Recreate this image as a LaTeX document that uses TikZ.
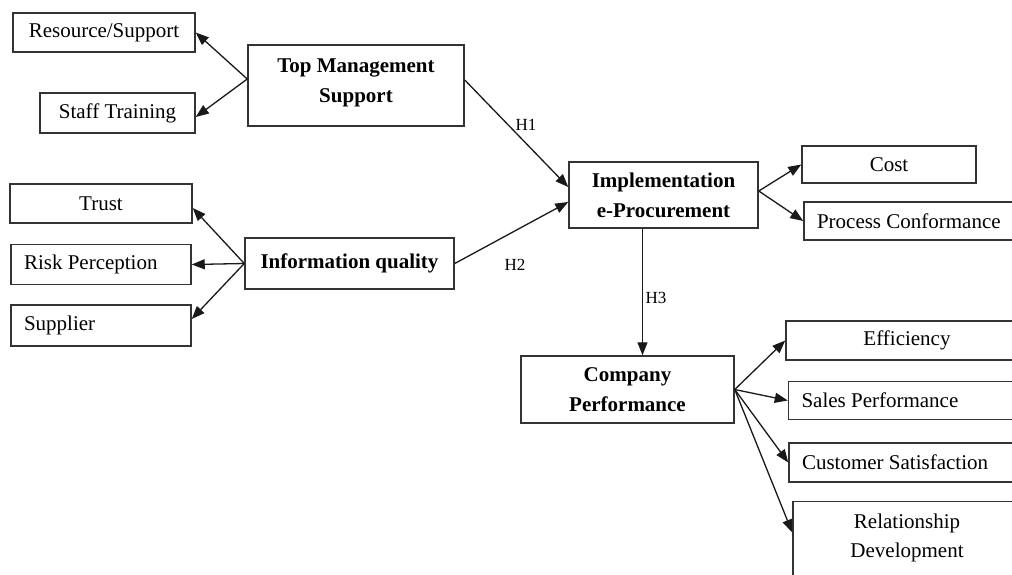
\documentclass[tikz,border=0pt]{standalone}
\usepackage{fontspec}
\setmainfont{Liberation Serif}
\usetikzlibrary{arrows.meta,positioning}
\tikzset{
  >={Triangle[length=13pt,width=10pt]},
  link/.style={->,line width=1.3pt,draw=black!90},
  box/.style={draw=black!80,line width=1.5pt,inner sep=0pt,align=center,
              font=\fontsize{21}{29}\selectfont},
  leftbox/.style={box,inner xsep=13pt,align=flush left,text width=#1},
  main/.style={box,font=\fontsize{21}{30}\selectfont\bfseries},
  hyp/.style={inner sep=0pt,font=\fontsize{17}{20}\selectfont}
}
\begin{document}
\begin{tikzpicture}[x=1pt,y=-1pt]
  \path[use as bounding box,clip] (0,0) rectangle (1012,574);
  % central constructs
  \node[main,minimum width=216pt,minimum height=81pt] (tms) at (356,85.5) {Top Management\\Support\rule[-9pt]{0pt}{1pt}};
  \node[main,minimum width=209pt,minimum height=51pt] (iq) at (349.5,263.5) {Information quality};
  \node[main,minimum width=189pt,minimum height=66pt] (impl) at (663.5,195) {Implementation\\e-Procurement};
  \node[main,minimum width=213pt,minimum height=67pt] (cp) at (627.5,389.5) {Company\\Performance};
  % indicators, left side
  \node[box,minimum width=182pt,minimum height=39pt] (res) at (104,32.5) {Resource/Support};
  \node[box,minimum width=155pt,minimum height=40pt] (staff) at (117.5,113) {Staff Training};
  \node[box,minimum width=182pt,minimum height=39pt] (trust) at (101,203.5) {Trust};
  \node[leftbox=154pt,minimum height=40pt,below=20pt of trust] (risk) {Risk Perception};
  \node[leftbox=154pt,minimum height=41pt,below=19pt of risk] (supp) {Supplier};
  % indicators, right side
  \node[box,minimum width=174pt,minimum height=37pt] (cost) at (889,164.5) {Cost};
  \node[leftbox=200pt,minimum height=38pt] (conf) at (917,221) {Process Conformance};
  \node[box,minimum width=242pt,minimum height=39pt] (eff) at (907,340.5) {Efficiency};
  \node[leftbox=211pt,minimum height=38pt,below=20pt of eff] (sales) {Sales Performance};
  \node[leftbox=210pt,minimum height=39pt,below=22pt of sales] (cust) {Customer Satisfaction};
  \node[box,minimum width=228pt,minimum height=83pt,below=18pt of cust] (rel) {Relationship\\Development\rule[-15.5pt]{0pt}{1pt}};
  % fans
  \coordinate (tmsfan) at ([yshift=6.5pt]tms.west);
  \draw[link] (tmsfan) -- (res.east);
  \draw[link] (tmsfan) -- ([yshift=-4pt]staff.east);
  \draw[link] (iq.west) -- ([yshift=-4.5pt]trust.east);
  \draw[link] (iq.west) -- (risk.east);
  \draw[link] (iq.west) -- ([yshift=6.5pt]supp.east);
  \coordinate (implfan) at ([yshift=4pt]impl.east);
  \draw[link] (implfan) -- (cost.west);
  \draw[link] (implfan) -- (conf.west);
  \draw[link] (cp.east) -- (eff.west);
  \draw[link] (cp.east) -- (sales.west);
  \draw[link] (cp.east) -- (cust.west);
  \draw[link] (cp.east) -- ([yshift=10.5pt]rel.west);
  % hypotheses
  \draw[link] ([yshift=5.5pt]tms.east) -- ([yshift=8pt]impl.west);
  \draw[link] (iq.east) -- ([yshift=-7pt]impl.west);
  \coordinate (h3top) at ([xshift=-21pt]impl.south);
  \draw[link] (h3top) -- (h3top |- cp.north);
  \node[hyp] (h1) at (526,125) {H1};
  \node[hyp] (h2) at (515,265) {H2};
  \node[hyp] (h3) at (656,298) {H3};
\end{tikzpicture}
\end{document}
